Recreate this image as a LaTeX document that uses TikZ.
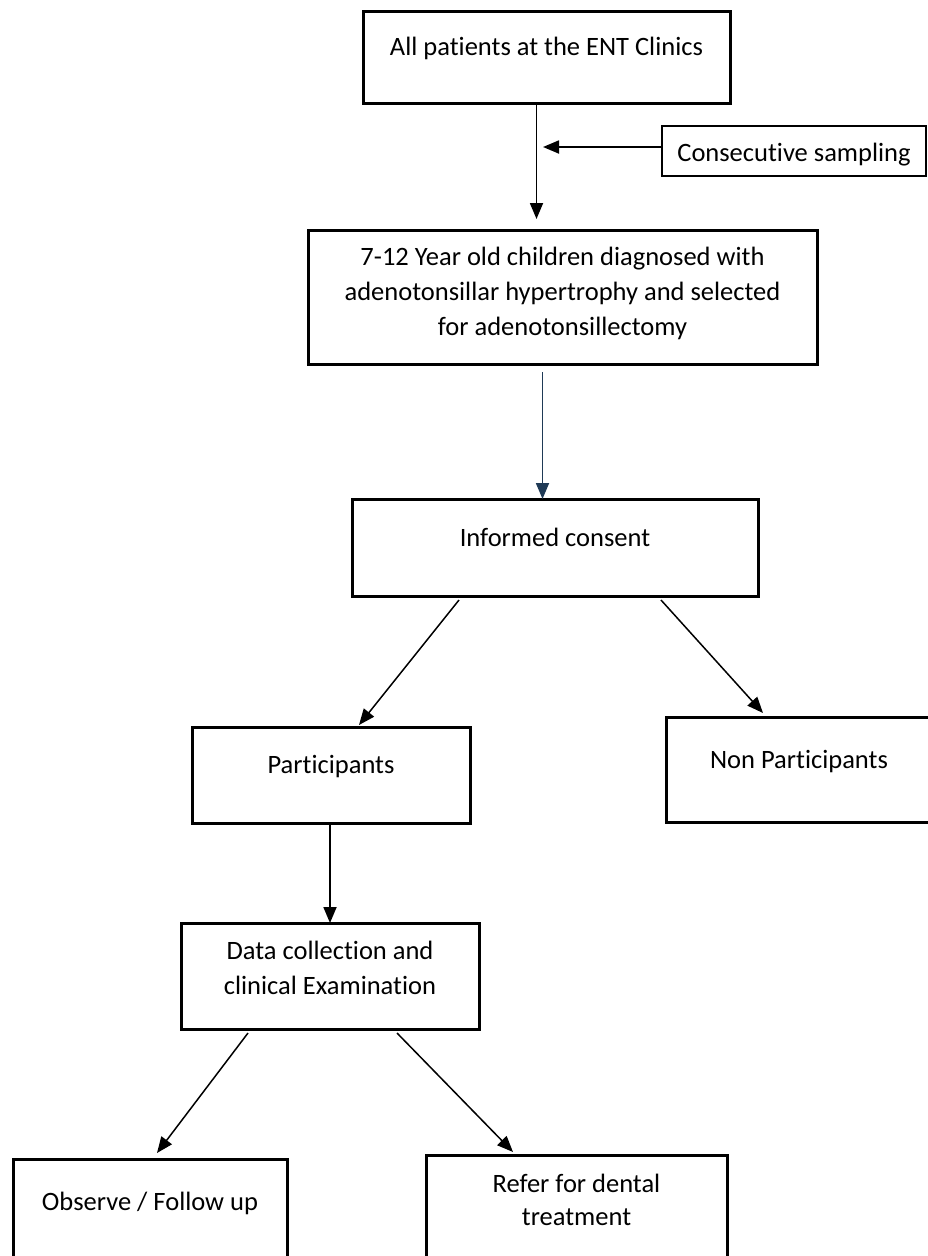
\documentclass[tikz,border=0pt]{standalone}
\usepackage{fontspec}
\setmainfont[Ligatures=NoCommon]{Carlito}
\usetikzlibrary{arrows.meta}
\definecolor{arrowblue}{RGB}{31,58,86}
\begin{document}
\begin{tikzpicture}[x=1pt, y=-1pt,
               box_style/.style={rectangle,draw=black,line width=3pt,inner sep=0pt,outer sep=0pt,anchor=base,align=center,font=\fontsize{26.5}{35}\selectfont},
               edge_style/.style={draw=black,line width=1.8pt,-{Triangle[length=16pt,width=13pt]}}]
                \clip (0,0) rectangle (928,1256);

                \node[box_style,minimum width=367pt,text height=44pt,text depth=48pt] (ent) at (546.5,55) {All patients at the ENT Clinics};
                \node[box_style,minimum width=264pt,text height=35pt,text depth=15pt,line width=2pt] (sampling) at (794,161) {Consecutive sampling};
                \node[box_style,minimum width=509pt,text height=105pt,text depth=29pt] (children) at (562.5,335) {7-12 Year old children diagnosed with\\ adenotonsillar hypertrophy and selected\\ for adenotonsillectomy};
                \node[box_style,minimum width=406pt,text height=47pt,text depth=50pt] (consent) at (555,546) {Informed consent};
                \node[box_style,minimum width=278pt,text height=46pt,text depth=50pt] (part) at (331,773) {Participants};
                \node[box_style,minimum width=266pt,text height=51pt,text depth=54pt] (nonpart) at (799,768) {Non Participants};
                \node[box_style,minimum width=298pt,text height=71pt,text depth=35pt] (data) at (330,994) {Data collection and\\ clinical Examination};
                \node[box_style,minimum width=274pt,text height=51pt,text depth=52pt] (observe) at (150,1210) {Observe / Follow up};
                \node[box_style,minimum width=301pt,text height=70pt,text depth=37pt] (refer) at (576.5,1225) {Refer for dental\\[-2pt] treatment};

                \coordinate (tip) at (536.5,219);
                \coordinate (feed) at (543,147);

                \draw[edge_style]  ([xshift=-10pt]ent.south) -- (tip);
                \draw[edge_style]  ([yshift=4pt]sampling.west) -- (feed);
                \draw[edge_style,draw=arrowblue,fill=arrowblue]  ([xshift=-20pt,yshift=-8pt]children.south) -- ([xshift=-12.5pt]consent.north);
                \draw[edge_style,line width=1.5pt]  ([xshift=-96pt,yshift=-4pt]consent.south) -- ([xshift=28pt,yshift=2pt]part.north);
                \draw[edge_style,line width=1.5pt]  ([xshift=106pt,yshift=-4pt]consent.south) -- ([xshift=-36pt,yshift=4pt]nonpart.north);
                \draw[edge_style]  ([xshift=-1pt]part.south) -- (data.north);
                \draw[edge_style,line width=1.5pt]  ([xshift=-82pt,yshift=-4pt]data.south) -- ([xshift=7pt,yshift=6pt]observe.north);
                \draw[edge_style,line width=1.5pt]  ([xshift=67pt,yshift=-4pt]data.south) -- ([xshift=-63.5pt,yshift=3pt]refer.north);
            \end{tikzpicture}
\end{document}
